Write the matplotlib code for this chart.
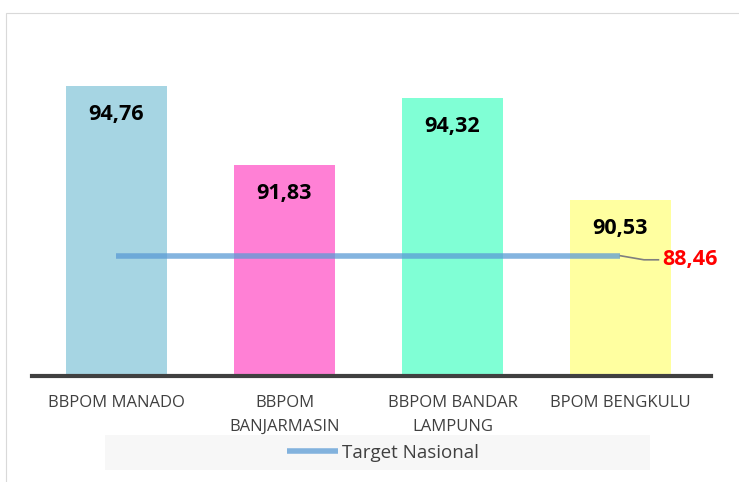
import numpy as np
import matplotlib
matplotlib.rcParams['font.family'] = ['Open Sans', 'DejaVu Sans']
import matplotlib.pyplot as plt
from matplotlib.patches import Rectangle

# data
categories = ['BBPOM MANADO', 'BBPOM\nBANJARMASIN', 'BBPOM BANDAR\nLAMPUNG', 'BPOM BENGKULU']
values = [94.76, 91.83, 94.32, 90.53]
target = 88.46
bar_colors = ['#A6D5E3', '#FF80D5', '#80FFD5', '#FFFFA0']

W, H = 739, 482
fig = plt.figure(figsize=(W / 100, H / 100), dpi=100)
fig.patch.set_facecolor('white')

# chart area border
fig.add_artist(Rectangle((6 / W, -0.05), 1.1, 1 - 13 / H + 0.05, transform=fig.transFigure,
                         fill=False, edgecolor='#d9d9d9', lw=0.8))

ymin, ymax = 84.0, 96.0
px_per_unit = 26.96
base_px = 376
top_px = base_px - (ymax - ymin) * px_per_unit
ax = fig.add_axes([32 / W, (H - base_px) / H, 679 / W, (base_px - top_px) / H])
ax.set_facecolor('none')

x = np.arange(len(categories))
ax.bar(x, values, width=0.6, color=bar_colors, zorder=2)

# target line
ax.plot(x, [target] * len(x), color='#5B9BD5', lw=4, alpha=0.75, zorder=3,
        label='Target Nasional', solid_capstyle='butt')

for xi, v in zip(x, values):
    ax.text(xi, v - 0.68, f'{v:.2f}'.replace('.', ','), ha='center', va='top',
            fontsize=15.5, fontweight='bold', color='black', zorder=4)

# target label with leader line
ax.plot([3.0, 3.14, 3.226], [target, target - 0.15, target - 0.15], color='#7f7f7f', lw=1.2, zorder=3)
ax.text(3.25, target - 0.15, f'{target:.2f}'.replace('.', ','), ha='left', va='center',
        fontsize=15.5, fontweight='bold', color='#FF0000', zorder=4)

ax.set_xlim(-0.503, 3.539)
ax.set_ylim(ymin, ymax)
ax.set_xticks(x)
ax.set_xticklabels(categories, fontsize=12, color='#404040', linespacing=1.6)
ax.tick_params(axis='x', length=0, pad=14)
ax.set_yticks([])
for s in ['top', 'right', 'left']:
    ax.spines[s].set_visible(False)
ax.spines['bottom'].set_color('#404040')
ax.spines['bottom'].set_linewidth(3)

# legend
fig.add_artist(Rectangle((105 / W, (H - 470) / H), 545 / W, 35 / H, transform=fig.transFigure,
                         facecolor='#f7f7f7', edgecolor='none'))
handles, labels = ax.get_legend_handles_labels()
fig.legend(handles, labels, loc='center', bbox_to_anchor=(383 / W, (H - 453) / H),
           frameon=False, fontsize=13.5, handlelength=2.75, handletextpad=0.2,
           labelcolor='#404040')

fig.savefig('out.png', dpi=100, facecolor='white')
